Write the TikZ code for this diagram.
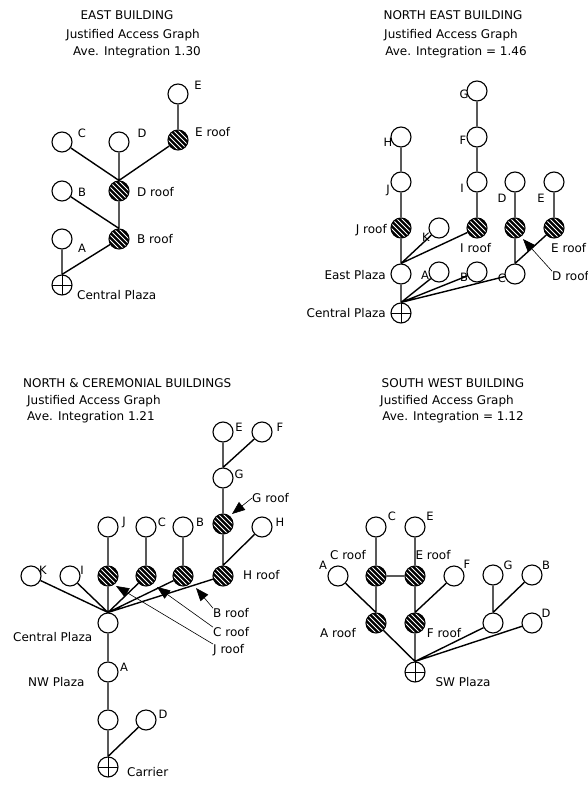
\documentclass[tikz,border=0pt]{standalone}
\usepackage{fontspec}
\setmainfont{DejaVu Sans}
\usetikzlibrary{arrows.meta}
\begin{document}
\begin{tikzpicture}[x=1pt,y=-1pt,
  every node/.style={font=\fontsize{12}{14}\selectfont},
  room/.style={circle,draw,line width=1.1pt,minimum size=20pt,inner sep=0pt,fill=white},
  roof/.style={room,path picture={
      \fill[black] (path picture bounding box.south west) rectangle (path picture bounding box.north east);
      \begin{scope}[shift={(path picture bounding box.center)}]
        \foreach \c in {-25,-20,...,25}
          \draw[white,line width=0.95pt] ({\c*0.5pt-14pt},{\c*0.5pt+14pt}) -- ({\c*0.5pt+14pt},{\c*0.5pt-14pt});
      \end{scope}}},
  carrier/.style={room,path picture={
      \draw[line width=1pt] (path picture bounding box.north) -- (path picture bounding box.south)
        (path picture bounding box.west) -- (path picture bounding box.east);}},
  lbl/.style={inner sep=0pt},
  ltr/.style={inner sep=0pt,font=\fontsize{11.5}{13}\selectfont},
  link/.style={line width=1.4pt},
  pointer/.style={line width=0.6pt,-{Triangle[length=13pt,width=10pt]}}]
\useasboundingbox[fill=white] (0,0) rectangle (588,787);

% ---------------- EAST BUILDING ----------------
\node[lbl] (aT1) at (127,15) {EAST BUILDING};
\node[lbl] (aT2) at (133,35) {Justified Access Graph};
\node[lbl] (aT3) at (137,52) {Ave. Integration 1.30};
\node[room] (aE) at (178,94) {};
\node[roof] (aEr) at (178,140) {};
\node[room] (aC) at (62,142) {};
\node[room] (aD) at (119,142) {};
\node[roof] (aDr) at (119,191) {};
\node[room] (aB) at (62,191) {};
\node[roof] (aBr) at (119,239) {};
\node[room] (aA) at (62,239) {};
\node[carrier] (aP) at (62,285) {};
\draw[link] (aE) -- (aEr) (aEr) -- (aDr.north) (aC) -- (aDr.north) (aD) -- (aDr)
  (aB) -- (aBr.north) (aDr) -- (aBr) (aBr) -- (aP.north) (aA) -- (aP);
\node[ltr] (aLE) at (198,85) {E};
\node[lbl,anchor=west] (aLEr) at (195,132) {E roof};
\node[ltr] (aLC) at (82,133) {C};
\node[ltr] (aLD) at (142,133) {D};
\node[lbl,anchor=west] (aLDr) at (137,192) {D roof};
\node[ltr] (aLB) at (82,192) {B};
\node[lbl,anchor=west] (aLBr) at (137,239) {B roof};
\node[ltr] (aLA) at (82,248) {A};
\node[lbl,anchor=west] (aLP) at (77,295) {Central Plaza};

% ---------------- NORTH EAST BUILDING ----------------
\node[lbl] (bT1) at (453,15) {NORTH EAST BUILDING};
\node[lbl] (bT2) at (451,35) {Justified Access Graph};
\node[lbl] (bT3) at (456,52) {Ave. Integration = 1.46};
\node[room] (bG) at (477,91) {};
\node[room] (bF) at (477,137) {};
\node[room] (bI) at (477,182) {};
\node[roof] (bIr) at (477,228) {};
\node[room] (bH) at (401,137) {};
\node[room] (bJ) at (401,182) {};
\node[roof] (bJr) at (401,228) {};
\node[room] (bK) at (439,228) {};
\node[room] (bEP) at (401,274) {};
\node[carrier] (bCP) at (401,313) {};
\node[room] (bA) at (439,272) {};
\node[room] (bB) at (477,272) {};
\node[room] (bC) at (515,274) {};
\node[room] (bD) at (515,182) {};
\node[roof] (bDr) at (515,228) {};
\node[room] (bE) at (554,182) {};
\node[roof] (bEr) at (554,228) {};
\draw[link] (bG) -- (bF) (bF) -- (bI) (bI) -- (bIr) (bH) -- (bJ) (bJ) -- (bJr) (bJr) -- (bEP)
  (bK) -- (bEP.north) (bIr) -- (bEP.north) (bEP) -- (bCP)
  (bA) -- (bCP.north) (bB) -- (bCP.north) (bC) -- (bCP.north)
  (bD) -- (bDr) (bDr) -- (bC) (bE) -- (bEr) (bEr) -- (bC.north);
\node[ltr] (bLG) at (464,94) {G};
\node[ltr] (bLF) at (463,140) {F};
\node[ltr] (bLI) at (462,188) {I};
\node[lbl,anchor=west] (bLIr) at (460,248) {I roof};
\node[ltr] (bLH) at (388,142) {H};
\node[ltr] (bLJ) at (388,190) {J};
\node[lbl,anchor=east] (bLJr) at (387,230) {J roof};
\node[ltr] (bLK) at (426,237) {K};
\node[lbl,anchor=east] (bLEP) at (386,275) {East Plaza};
\node[lbl,anchor=east] (bLCP) at (386,313) {Central Plaza};
\node[ltr] (bLA) at (425,275) {A};
\node[ltr] (bLB) at (464,277) {B};
\node[ltr] (bLC) at (502,278) {C};
\node[ltr] (bLD) at (502,198) {D};
\node[ltr] (bLE) at (541,198) {E};
\node[lbl,anchor=west] (bLEr) at (551,248) {E roof};
\node[lbl,anchor=west] (bLDr) at (552,276) {D roof};
\coordinate (bTip) at (523,239);
\draw[pointer] (bLDr.north west) -- (bTip);

% ---------------- NORTH & CEREMONIAL BUILDINGS ----------------
\node[lbl,anchor=west] (cT1) at (23,383) {NORTH \& CEREMONIAL BUILDINGS};
\node[lbl,anchor=west] (cT2) at (27,401) {Justified Access Graph};
\node[lbl,anchor=west] (cT3) at (27,417) {Ave. Integration 1.21};
\node[room] (cE) at (223,432) {};
\node[room] (cF) at (262,432) {};
\node[room] (cG) at (223,478) {};
\node[roof] (cGr) at (223,524) {};
\node[room] (cJ) at (108,527) {};
\node[room] (cC) at (146,527) {};
\node[room] (cB) at (183,527) {};
\node[room] (cH) at (262,527) {};
\node[room] (cK) at (31,576) {};
\node[room] (cI) at (70,576) {};
\node[roof] (cJr) at (108,576) {};
\node[roof] (cCr) at (146,576) {};
\node[roof] (cBr) at (183,576) {};
\node[roof] (cHr) at (223,576) {};
\node[room] (cP) at (108,623) {};
\node[room] (cA) at (108,672) {};
\node[room] (cX) at (108,720) {};
\node[room] (cD) at (146,720) {};
\node[carrier] (cCa) at (108,767) {};
\draw[link] (cE) -- (cG) (cF) -- (cG.north) (cG) -- (cGr) (cGr) -- (cHr) (cH) -- (cHr.north)
  (cJ) -- (cJr) (cC) -- (cCr) (cB) -- (cBr)
  (cK) -- (cP.north) (cI) -- (cP.north) (cJr) -- (cP) (cCr) -- (cP.north) (cBr) -- (cP.north) (cHr) -- (cP.north)
  (cP) -- (cA) (cA) -- (cX) (cX) -- (cCa) (cD) -- (cCa.north);
\node[ltr] (cLE) at (239,427) {E};
\node[ltr] (cLF) at (280,427) {F};
\node[ltr] (cLG) at (239,474) {G};
\node[lbl,anchor=west] (cLGr) at (252,498) {G roof};
\node[ltr] (cLJ) at (124,522) {J};
\node[ltr] (cLC) at (162,522) {C};
\node[ltr] (cLB) at (200,522) {B};
\node[ltr] (cLH) at (280,522) {H};
\node[ltr] (cLK) at (43,570) {K};
\node[ltr] (cLI) at (82,570) {I};
\node[lbl,anchor=west] (cLHr) at (243,575) {H roof};
\node[lbl,anchor=west] (cLP) at (13,637) {Central Plaza};
\node[ltr] (cLA) at (124,667) {A};
\node[lbl,anchor=west] (cLNW) at (28,682) {NW Plaza};
\node[ltr] (cLD) at (163,714) {D};
\node[lbl,anchor=west] (cLCa) at (127,772) {Carrier};
\node[lbl,anchor=west] (cLBr) at (213,613) {B roof};
\node[lbl,anchor=west] (cLCr) at (213,632) {C roof};
\node[lbl,anchor=west] (cLJr) at (213,650) {J roof};
\coordinate (cTipG) at (232,514);
\coordinate (cTipB) at (196,588);
\coordinate (cTipC) at (157,587);
\coordinate (cTipJ) at (116,586);
\draw[pointer] (cLGr.west) -- (cTipG);
\draw[pointer] (cLBr.north west) -- (cTipB);
\draw[pointer] (cLCr.north west) -- (cTipC);
\draw[pointer] (cLJr.north west) -- (cTipJ);

% ---------------- SOUTH WEST BUILDING ----------------
\node[lbl] (dT1) at (453,383) {SOUTH WEST BUILDING};
\node[lbl] (dT2) at (447,401) {Justified Access Graph};
\node[lbl] (dT3) at (453,417) {Ave. Integration = 1.12};
\node[room] (dC) at (376,527) {};
\node[room] (dE) at (415,527) {};
\node[room] (dA) at (338,576) {};
\node[roof] (dCr) at (376,576) {};
\node[roof] (dEr) at (415,576) {};
\node[room] (dF) at (454,576) {};
\node[roof] (dAr) at (376,623) {};
\node[roof] (dFr) at (415,623) {};
\node[carrier] (dP) at (415,672) {};
\node[room] (dG) at (493,575) {};
\node[room] (dB) at (532,575) {};
\node[room] (dX) at (493,623) {};
\node[room] (dD) at (532,623) {};
\draw[link] (dC) -- (dCr) (dE) -- (dEr) (dCr) -- (dEr) (dCr) -- (dAr) (dA) -- (dAr.north)
  (dEr) -- (dFr) (dF) -- (dFr.north) (dAr) -- (dP.north) (dFr) -- (dP)
  (dG) -- (dX) (dB) -- (dX.north) (dX) -- (dP.north) (dD) -- (dP.north);
\node[ltr] (dLC) at (392,516) {C};
\node[ltr] (dLE) at (430,516) {E};
\node[ltr] (dLA) at (323,565) {A};
\node[lbl] (dLCr) at (348,555) {C roof};
\node[lbl] (dLEr) at (433,555) {E roof};
\node[ltr] (dLF) at (467,564) {F};
\node[lbl] (dLAr) at (338,633) {A roof};
\node[lbl] (dLFr) at (444,633) {F roof};
\node[lbl] (dLP) at (463,682) {SW Plaza};
\node[ltr] (dLG) at (508,565) {G};
\node[ltr] (dLB) at (546,565) {B};
\node[ltr] (dLD) at (546,613) {D};
\end{tikzpicture}
\end{document}
